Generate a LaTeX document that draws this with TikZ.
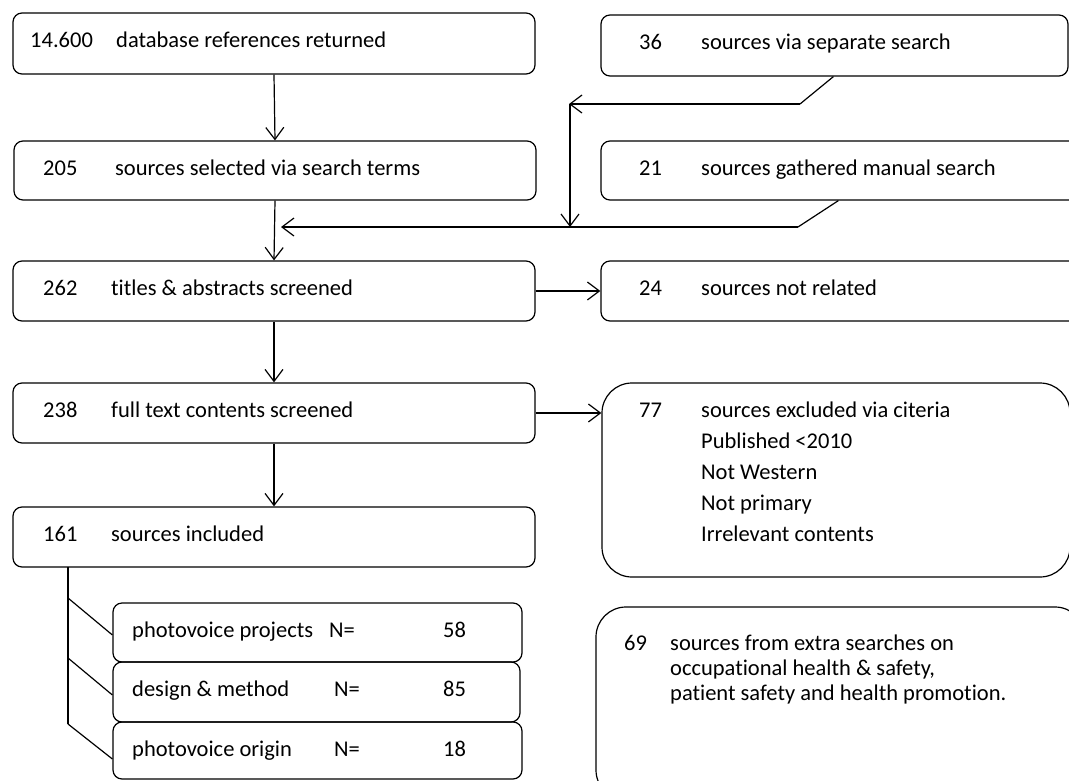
\documentclass[tikz,border=0pt]{standalone}
\usepackage{fontspec}
\setmainfont{Carlito}[Ligatures=NoCommon]
\usetikzlibrary{arrows.meta,fit,calc}
\begin{document}
\begin{tikzpicture}[x=1pt,y=-1pt,
  box/.style={draw, line width=1.2pt, rounded corners=9pt, inner sep=0pt},
  bigbox/.style={box, rounded corners=30pt},
  txt/.style={anchor=base west, inner sep=0pt, font=\fontsize{22.5}{26}\selectfont},
  line/.style={line width=1.2pt},
  arr/.style={line, -{Straight Barb[length=12pt,width=18pt,line width=1.2pt]}}]
\useasboundingbox (0,0) rectangle (1069,780);
\clip (0,0) rectangle (1069,780);

% left column boxes
\node[box, fit={(13,13) (535,74)}] (b1) {};
\node[box, fit={(14,141) (536,200)}] (b2) {};
\node[box, fit={(13,261) (535,321)}] (b3) {};
\node[box, fit={(13,383) (535,443)}] (b4) {};
\node[box, fit={(13,507) (535,567)}] (b5) {};
% right column boxes
\node[box, fit={(601,15) (1068,76)}] (r1) {};
\node[box, fit={(601,141) (1080,200)}] (r2) {};
\node[box, fit={(601,261) (1080,321)}] (r3) {};
\node[bigbox, fit={(602,383) (1070,577)}] (r4) {};
\node[bigbox, fit={(596,607) (1085,800)}] (r5) {};
% sub boxes
\node[box, fit={(113,603) (522,662)}] (s1) {};
\node[box, fit={(113,662) (520,722)}] (s2) {};
\node[box, fit={(113,722) (522,779)}] (s3) {};

% texts
\node[txt] (t1a) at (30,47) {14.600};
\node[txt] (t1b) at (116,47) {database references returned};
\node[txt] (t2a) at (43,175) {205};
\node[txt] (t2b) at (115,175) {sources selected via search terms};
\node[txt] (t3a) at (43,295) {262};
\node[txt] (t3b) at (111,295) {titles \& abstracts screened};
\node[txt] (t4a) at (43,417) {238};
\node[txt] (t4b) at (111,417) {full text contents screened};
\node[txt] (t5a) at (43,541) {161};
\node[txt] (t5b) at (111,541) {sources included};

\node[txt] (u1a) at (639,49) {36};
\node[txt] (u1b) at (701,49) {sources via separate search};
\node[txt] (u2a) at (639,175) {21};
\node[txt] (u2b) at (701,175) {sources gathered manual search};
\node[txt] (u3a) at (639,295) {24};
\node[txt] (u3b) at (701,295) {sources not related};
\node[txt] (u4a) at (639,417) {77};
\node[txt] (u4b) at (701,417) {\parbox[t]{340pt}{\fontsize{22.5}{31}\selectfont
  sources excluded via citeria\\ Published <2010\\ Not Western\\ Not primary\\ Irrelevant contents}};
\node[txt] (u5a) at (624,650) {69};
\node[txt] (u5b) at (670,650) {\parbox[t]{390pt}{\fontsize{22.5}{25}\selectfont
  sources from extra searches on\\ occupational health \& safety,\\ patient safety and health promotion.}};

\node[txt] (v1a) at (132,637) {photovoice projects};
\node[txt] (v1b) at (329,637) {N=};
\node[txt] (v1c) at (443,637) {58};
\node[txt] (v2a) at (132,696) {design \& method};
\node[txt] (v2b) at (334,696) {N=};
\node[txt] (v2c) at (443,696) {85};
\node[txt] (v3a) at (132,756) {photovoice origin};
\node[txt] (v3b) at (334,756) {N=};
\node[txt] (v3c) at (443,756) {18};

% main flow arrows
\draw[arr] (b1.south) -- (b2.north);
\draw[arr] (b2.south) -- (b3.north);
\draw[arr] (b3.south) -- (b4.north);
\draw[arr] (b4.south) -- (b5.north);
\draw[arr] (b3.east) -- (r3.west);
\draw[arr] (b4.east) -- (b4.east -| r4.west);

% side inputs
\coordinate (k1) at (800,104);
\coordinate (k1t) at (569,104);
\coordinate (k2) at (798,227);
\coordinate (k2t) at (281,227);
\coordinate (k3) at (570,227);
\draw[line] ($(r1.south west)+(233,0)$) -- (k1);
\draw[arr] (k1) -- (k1t);
\draw[arr] (570,104) -- (k3);
\draw[line] ($(r2.south west)+(238,0)$) -- (k2);
\draw[arr] (k2) -- (k2t);

% bracket to sub boxes
\coordinate (q0) at (68,567);
\coordinate (q1) at (68,598);
\coordinate (q2) at (68,658);
\coordinate (q3) at (68,724);
\draw[line] (q0) -- (q3);
\draw[line] (q1) -- (s1.west |- 0,635);
\draw[line] (q2) -- (s2.west |- 0,695);
\draw[line] (q3) -- (s3.west |- 0,759);
\end{tikzpicture}
\end{document}
